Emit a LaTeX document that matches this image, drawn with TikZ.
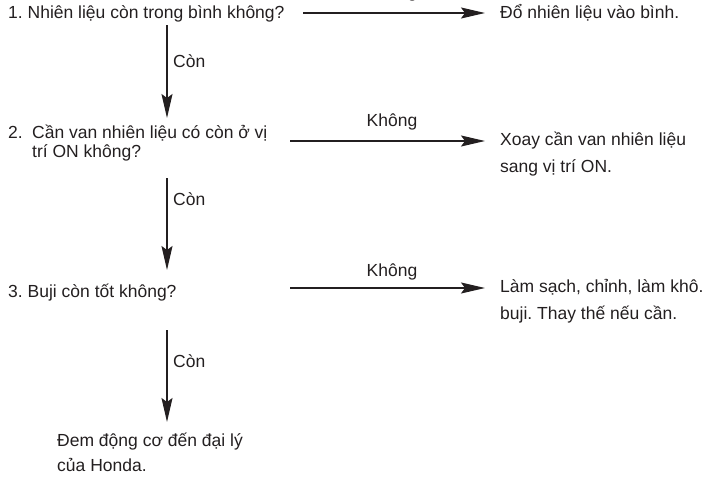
\documentclass[tikz,border=0pt]{standalone}
\usepackage{fontspec}
\setmainfont{Liberation Sans}
\usetikzlibrary{arrows.meta}
\definecolor{ink}{HTML}{231F20}
\frenchspacing
\begin{document}
\begin{tikzpicture}[x=1pt,y=-1pt,
  txt/.style={inner sep=0pt, anchor=base west, font=\fontsize{17.5}{21}\selectfont, text=ink},
  lbl/.style={inner sep=0pt, anchor=base, font=\fontsize{17.5}{21}\selectfont, text=ink},
  arr/.style={draw=ink, line width=1.2pt, -{Stealth[length=24pt,width=11pt,inset=4pt]}}]
  \path[use as bounding box] (0,0) rectangle (713,479);
  \clip (0,0) rectangle (713,479);

  % questions
  \node[txt] (q1) at (8,19) {1. Nhiên liệu còn trong bình không?};
  \node[txt] (q2) at (8,138.5) {\renewcommand\arraystretch{0.9}%
    \begin{tabular}[t]{@{}l@{}}\makebox[24pt][l]{2.}Cần van nhiên liệu có còn ở vị\\
    \hspace*{24pt}trí ON không?\end{tabular}};
  \node[txt] (q3) at (8,297) {3. Buji còn tốt không?};

  % actions
  \node[txt] (a1) at (500,19) {Đổ nhiên liệu vào bình.};
  \node[txt] (a2) at (500,145) {\renewcommand\arraystretch{1.33}%
    \begin{tabular}[t]{@{}l@{}}Xoay cần van nhiên liệu\\ sang vị trí ON.\end{tabular}};
  \node[txt] (a3) at (500,292) {\renewcommand\arraystretch{1.33}%
    \begin{tabular}[t]{@{}l@{}}Làm sạch, chỉnh, làm khô.\\ buji. Thay thế nếu cần.\end{tabular}};
  \node[txt] (fin) at (57,446) {\renewcommand\arraystretch{1.22}%
    \begin{tabular}[t]{@{}l@{}}Đem động cơ đến đại lý\\ của Honda.\end{tabular}};

  % connector end points
  \coordinate (h1) at (303,13);
  \coordinate (h2) at (290,141);
  \coordinate (h3) at (290,288);
  \coordinate (v1s) at (167,25);  \coordinate (v1e) at (167,118);
  \coordinate (v2s) at (167,178); \coordinate (v2e) at (167,270);
  \coordinate (v3s) at (167,330); \coordinate (v3e) at (167,422);

  % "no" branches
  \draw[arr] (h1) -- (h1 -| a1.west) [shorten >=15pt];
  \draw[arr] (h2) -- (h2 -| a2.west) [shorten >=15pt];
  \draw[arr] (h3) -- (h3 -| a3.west) [shorten >=15pt];
  \node[lbl] (n1) at (392,-2) {Không};
  \node[lbl] (n2) at (392,126) {Không};
  \node[lbl] (n3) at (392,276) {Không};

  % "yes" branches
  \draw[arr] (v1s) -- (v1e);
  \draw[arr] (v2s) -- (v2e);
  \draw[arr] (v3s) -- (v3e);
  \node[txt] (c1) at (173,67) {Còn};
  \node[txt] (c2) at (173,205) {Còn};
  \node[txt] (c3) at (173,367) {Còn};
\end{tikzpicture}
\end{document}
